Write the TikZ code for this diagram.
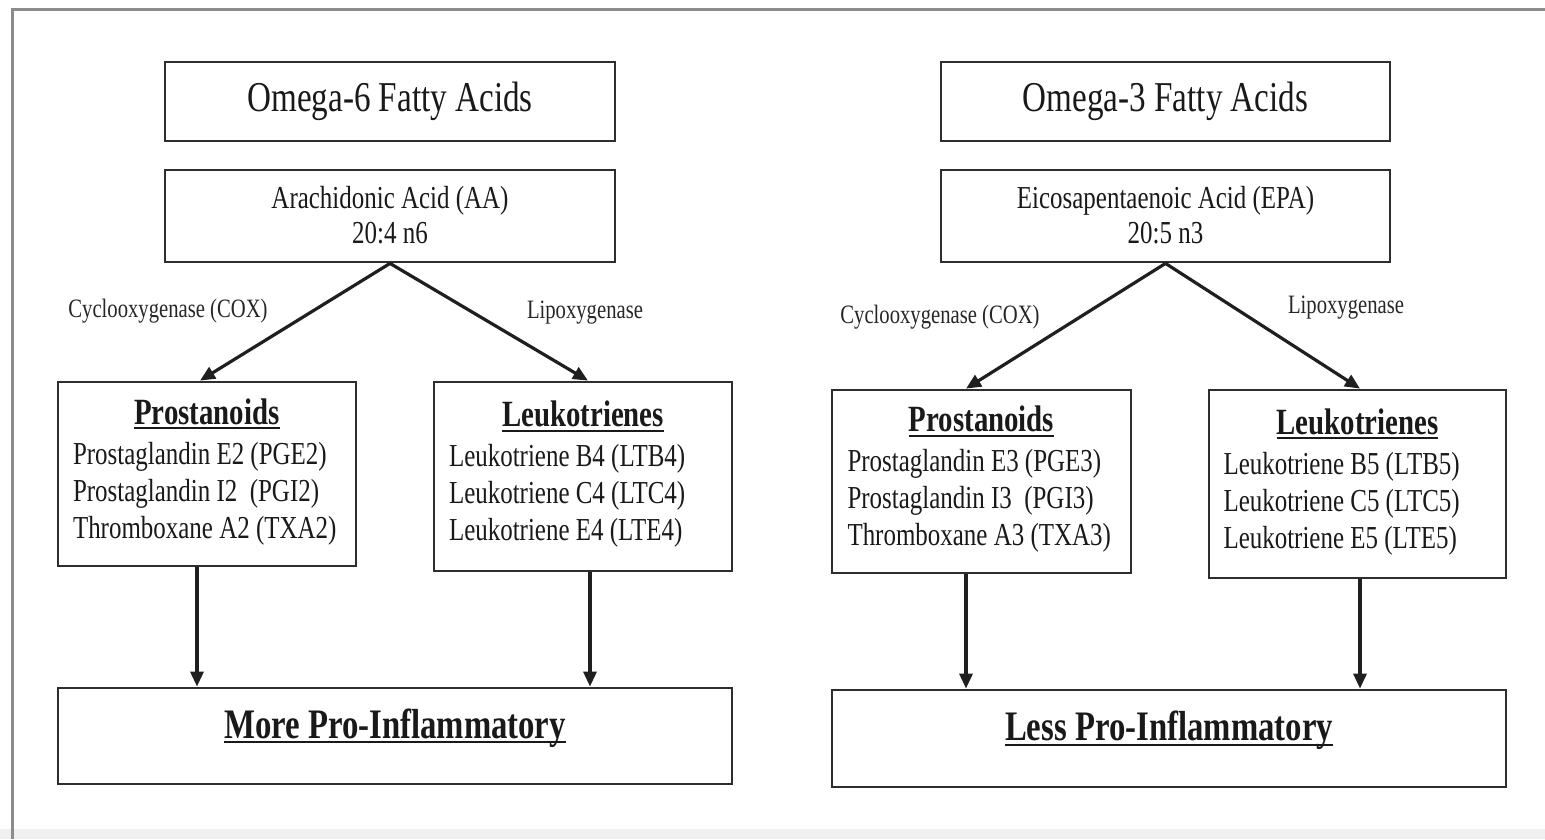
\documentclass[tikz,border=0pt]{standalone}
\usepackage{fontspec}
\setmainfont[FakeStretch=0.78]{Liberation Serif}
\usetikzlibrary{arrows.meta,calc}
\newcommand\myul[1]{\vtop{\hbox{\raisebox{0pt}[\height][0pt]{#1}}\kern3pt\hrule height 2pt}}
\newcommand\listbox[4]{\begin{tabular}{@{}>{\raggedright\arraybackslash}p{268pt}@{}}\multicolumn{1}{@{}c@{}}{\bfseries\fontsize{37}{40}\selectfont\myul{#1}}\\[3pt] #2\\ #3\\ #4\end{tabular}}
\usepackage{array}
\begin{document}
\begin{tikzpicture}[x=1pt,y=-1pt,
  box/.style={draw=black!82, line width=2.8pt, rectangle, inner sep=0pt, text=black!90, align=center},
  titlebox/.style={box, minimum width=450pt, minimum height=79pt, font=\fontsize{42.5}{50}\selectfont},
  acidbox/.style={box, minimum width=450pt, minimum height=92pt, font=\fontsize{32}{35}\selectfont},
  listb/.style={box, minimum width=298pt, font=\fontsize{32}{37}\selectfont},
  resbox/.style={box, minimum width=674pt, minimum height=96pt, font=\bfseries\fontsize{42}{46}\selectfont},
  enz/.style={inner sep=0pt, text=black!85, font=\fontsize{26.5}{30}\selectfont},
  arr/.style={draw=black!88, line width=3.2pt, -{Triangle[length=15pt,width=13pt]}}]
\useasboundingbox (0,0) rectangle (1545,839);
\fill[black!6] (0,829) rectangle (1545,839);
\draw[black!45, line width=3pt] (12,839) -- (12,9) -- (1545,9);

% left side
\node[titlebox] (o6) at (390,101.5) {Omega-6 Fatty Acids};
\node[acidbox] (aa) at (390,216) {\raisebox{-3pt}[\height][\depth]{\begin{tabular}{@{}c@{}}Arachidonic Acid (AA)\\20:4 n6\end{tabular}}};
\node[listb, minimum height=184pt] (pl) at (207,474) {\listbox{Prostanoids}{Prostaglandin E2 (PGE2)}{Prostaglandin I2~ (PGI2)}{Thromboxane A2 (TXA2)}};
\node[listb, minimum height=189pt] (ll) at (583,476.5) {\listbox{Leukotrienes}{Leukotriene B4 (LTB4)}{Leukotriene C4 (LTC4)}{Leukotriene E4 (LTE4)}};
\node[resbox] (more) at (395,736) {\raisebox{10pt}[\height][\depth]{\myul{More Pro-Inflammatory}}};
\node[enz] (coxl) at (168,311) {Cyclooxygenase (COX)};
\node[enz] (lipl) at (585,313) {Lipoxygenase};

\draw[arr] (aa.south) -- ([xshift=-7pt]pl.north);
\draw[arr] (aa.south) -- ([xshift=5pt]ll.north);
\draw[arr] ([xshift=-10pt]pl.south) -- ([xshift=-10pt]pl.south |- more.north);
\draw[arr] ([xshift=7pt]ll.south) -- ([xshift=7pt]ll.south |- more.north);

% right side
\node[titlebox, minimum width=449pt] (o3) at (1165.5,101.5) {Omega-3 Fatty Acids};
\node[acidbox, minimum width=449pt] (epa) at (1165.5,216) {\raisebox{-3pt}[\height][\depth]{\begin{tabular}{@{}c@{}}Eicosapentaenoic Acid (EPA)\\20:5 n3\end{tabular}}};
\node[listb, minimum width=299pt, minimum height=183pt] (pr) at (981.5,481.5) {\listbox{Prostanoids}{Prostaglandin E3 (PGE3)}{Prostaglandin I3~ (PGI3)}{Thromboxane A3 (TXA3)}};
\node[listb, minimum width=297pt, minimum height=188pt] (lr) at (1357.5,484) {\listbox{Leukotrienes}{Leukotriene B5 (LTB5)}{Leukotriene C5 (LTC5)}{Leukotriene E5 (LTE5)}};
\node[resbox, minimum height=97pt] (less) at (1169,738.5) {\raisebox{10pt}[\height][\depth]{\myul{Less Pro-Inflammatory}}};
\node[enz] (coxr) at (940,317) {Cyclooxygenase (COX)};
\node[enz] (lipr) at (1346,308) {Lipoxygenase};

\draw[arr] (epa.south) -- ([xshift=-15.5pt]pr.north);
\draw[arr] (epa.south) -- ([xshift=2.5pt]lr.north);
\draw[arr] ([xshift=-15.5pt]pr.south) -- ([xshift=-15.5pt]pr.south |- less.north);
\draw[arr] ([xshift=2.5pt]lr.south) -- ([xshift=2.5pt]lr.south |- less.north);
\end{tikzpicture}
\end{document}
